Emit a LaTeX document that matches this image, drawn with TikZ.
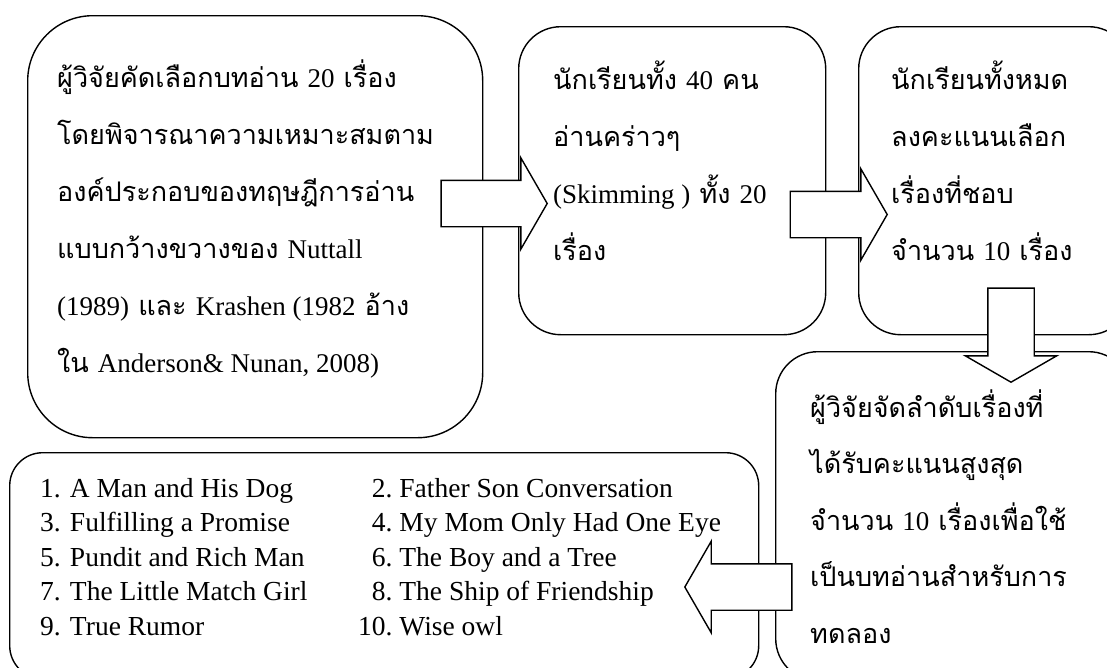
\documentclass[tikz,border=0pt]{standalone}
\usepackage{fontspec}
\setmainfont{Liberation Serif}
\newfontfamily\thaifont[Script=Thai]{Loma}
\newcommand{\en}[1]{{\rmfamily #1}}
\usetikzlibrary{shapes.arrows}

\begin{document}
\begin{tikzpicture}[x=1pt,y=-1pt,
  box/.style={draw,line width=1.4pt,fill=white,inner sep=0pt,anchor=north west},
  fatarrow/.style={single arrow,draw,fill=white,line width=1.4pt,inner sep=0pt,inner ysep=22.5pt,
    single arrow head extend=22.5pt,single arrow tip angle=120},
  txt/.style={anchor=base west,inner sep=0pt,font=\thaifont\fontsize{27}{57}\selectfont},
  lst/.style={anchor=base west,inner sep=0pt,font=\fontsize{27.5}{34.5}\selectfont}]
  \useasboundingbox (0,0) rectangle (1107,667);
  \clip (0,0) rectangle (1107,667);
  % boxes
  \node[box,minimum width=455pt,minimum height=422pt,rounded corners=65pt] (pick) at (27,15) {};
  \node[box,minimum width=307pt,minimum height=308pt,rounded corners=42pt] (skim) at (518,26) {};
  \node[box,minimum width=272pt,minimum height=308pt,rounded corners=42pt] (vote) at (858,26) {};
  \node[box,minimum width=355pt,minimum height=329pt,rounded corners=42pt] (rank) at (775,351) {};
  \node[box,minimum width=749pt,minimum height=226pt,rounded corners=33pt] (list) at (9,452) {};
  % block arrows
  \node[fatarrow,minimum height=106pt,anchor=tip] (a1) at (548,203.5) {};
  \node[fatarrow,minimum height=97pt,anchor=tip] (a2) at (888,214.5) {};
  \node[fatarrow,minimum height=94pt,anchor=tip,rotate=-90] (a3) at (1011,383) {};
  \node[fatarrow,minimum height=107pt,anchor=tip,rotate=180] (a4) at (684,587) {};
  % texts
  \node[txt] (pickt) at (57,87) {\begin{tabular}[t]{@{}l@{}}
    ผู้วิจัยคัดเลือกบทอ่าน \en{20} เรื่อง\\
    โดยพิจารณาความเหมาะสมตาม\\
    องค์ประกอบของทฤษฎีการอ่าน\\
    แบบกว้างขวางของ \en{Nuttall}\\
    \en{(1989)} และ \en{Krashen (1982} อ้าง\\
    ใน \en{Anderson\& Nunan, 2008)}
  \end{tabular}};
  \node[txt] (skimt) at (553,89) {\begin{tabular}[t]{@{}l@{}}
    นักเรียนทั้ง \en{40} คน\\
    อ่านคร่าวๆ\\
    \en{(Skimming )} ทั้ง \en{20}\\
    เรื่อง
  \end{tabular}};
  \node[txt] (votet) at (891,89) {\begin{tabular}[t]{@{}l@{}}
    นักเรียนทั้งหมด\\
    ลงคะแนนเลือก\\
    เรื่องที่ชอบ\\
    จำนวน \en{10} เรื่อง
  \end{tabular}};
  \node[txt,font=\thaifont\fontsize{27}{56.5}\selectfont] (rankt) at (810,417) {\begin{tabular}[t]{@{}l@{}}
    ผู้วิจัยจัดลำดับเรื่องที่\\
    ได้รับคะแนนสูงสุด\\
    จำนวน \en{10} เรื่องเพื่อใช้\\
    เป็นบทอ่านสำหรับการ\\
    ทดลอง
  \end{tabular}};
  \node[lst] (lista) at (40,497) {\begin{tabular}[t]{@{}l@{}}
    1. A Man and His Dog\\
    3. Fulfilling a Promise\\
    5. Pundit and Rich Man\\
    7. The Little Match Girl\\
    9. True Rumor
  \end{tabular}};
  \node[lst] (listb) at (358,497) {\begin{tabular}[t]{@{}r@{\ }l@{}}
    2. & Father Son Conversation\\
    4. & My Mom Only Had One Eye\\
    6. & The Boy and a Tree\\
    8. & The Ship of Friendship\\
    10. & Wise owl
  \end{tabular}};
\end{tikzpicture}
\end{document}
